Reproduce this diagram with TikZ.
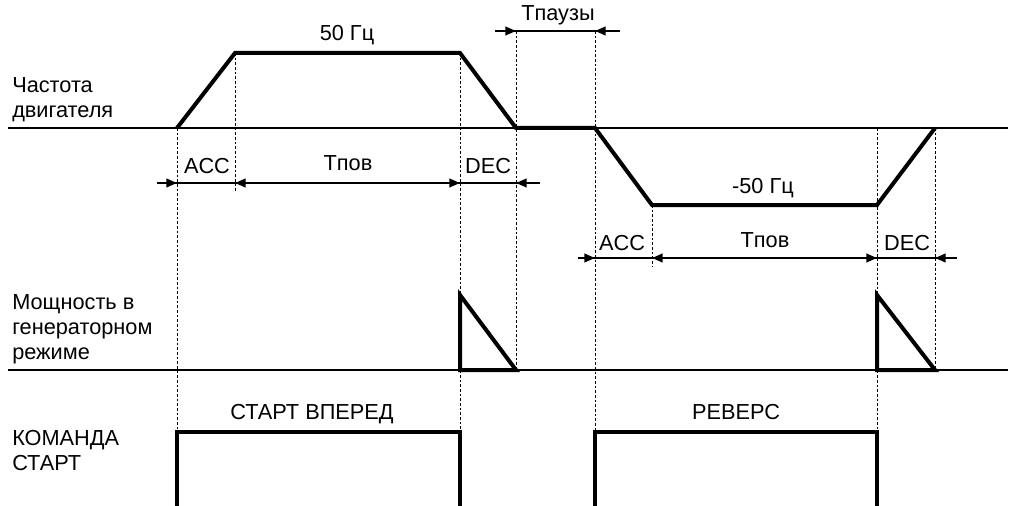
\documentclass[tikz,border=0pt]{standalone}
\usepackage{fontspec}
\setmainfont{Liberation Sans}
\usetikzlibrary{arrows.meta}

\begin{document}
\begin{tikzpicture}[x=0.75pt, y=-0.75pt,
    every node/.style={font=\fontsize{16.3}{18.5}\selectfont, inner sep=0pt},
    axis/.style={line width=1.5pt},
    sig/.style={line width=3pt, line join=miter},
    guide/.style={line width=0.6pt, dash pattern=on 2pt off 1.5pt},
    dim/.style={line width=1.5pt},
    tip/.style={-{Triangle[length=8pt, width=6.5pt]}, dim},
    tips/.style={{Triangle[length=8pt, width=6.5pt]}-{Triangle[length=8pt, width=6.5pt]}, dim},
    lbl/.style={anchor=base},
    side/.style={anchor=base west, align=left}
  ]
  \useasboundingbox (0,0) rectangle (1020,506);

  % key points of the frequency curve
  \coordinate (f0) at (177,128);
  \coordinate (f1) at (235,53);
  \coordinate (f2) at (460,53);
  \coordinate (f3) at (516,128);
  \coordinate (f4) at (595,128);
  \coordinate (f5) at (652,205);
  \coordinate (f6) at (877,205);
  \coordinate (f7) at (935,128);

  % axes
  \draw[axis] (8,128) coordinate (ax1) -- (1008,128);
  \draw[axis] (8,370) coordinate (ax2) -- (1008,370);

  % guide lines
  \draw[guide] (f0) -- (177,432);
  \draw[guide] (f1) -- (235,193);
  \draw[guide] (f2) -- (460,432);
  \draw[guide] (516,31) coordinate (p1) -- (516,370);
  \draw[guide] (595,31) coordinate (p2) -- (595,432);
  \draw[guide] (f5) -- (652,267);
  \draw[guide] (877,128) -- (877,432);
  \draw[guide] (f7) -- (935,370);

  % frequency
  \draw[sig] (f0) -- (f1) -- (f2) -- (f3) -- (f4) -- (f5) -- (f6) -- (f7);

  % regenerative power
  \draw[sig] (460,295) coordinate (g1) -- (g1 |- ax2) -- (f3 |- ax2) -- cycle;
  \draw[sig] (877,295) coordinate (g2) -- (g2 |- ax2) -- (f7 |- ax2) -- cycle;

  % start command
  \draw[sig] (177,506) -- (177,432) -- (460,432) -- (460,506);
  \draw[sig] (595,506) -- (595,432) -- (877,432) -- (877,506);

  % dimension rows
  \draw[dim] (157,183) coordinate (r1l) -- (540,183) coordinate (r1r);
  \draw[tip] (r1l) -- (f0 |- r1l);
  \draw[tips] (f1 |- r1l) -- (f2 |- r1l);
  \draw[tip] (r1r) -- (f3 |- r1r);

  \draw[dim] (578,258) coordinate (r2l) -- (957,258) coordinate (r2r);
  \draw[tip] (r2l) -- (f4 |- r2l);
  \draw[tips] (f5 |- r2l) -- (f6 |- r2l);
  \draw[tip] (r2r) -- (f7 |- r2r);

  \draw[dim] (495,31) coordinate (t1) -- (620,31) coordinate (t2);
  \draw[tip] (t1) -- (p1);
  \draw[tip] (t2) -- (p2);

  % labels
  \node[lbl] (hz1)  at (347,41)  {50 Гц};
  \node[lbl] (tp)   at (558,21)  {Tпаузы};
  \node[lbl] (acc1) at (207,173) {ACC};
  \node[lbl] (tr1)  at (348,171) {Tпов};
  \node[lbl] (dec1) at (488,173) {DEC};
  \node[lbl] (hz2)  at (763,193) {-50 Гц};
  \node[lbl] (acc2) at (622,250) {ACC};
  \node[lbl] (tr2)  at (765,247) {Tпов};
  \node[lbl] (dec2) at (907,250) {DEC};
  \node[lbl] (fwd)  at (312,419) {СТАРТ ВПЕРЕД};
  \node[lbl] (rev)  at (736,419) {РЕВЕРС};

  % row titles, placed by the baseline of their last line
  \node[side, font=\fontsize{16.3}{19}\selectfont] (lfreq) at (12,118) {Частота\\двигателя};
  \node[side] (lpow) at (12,359) {Мощность в\\генераторном\\режиме};
  \node[side] (lcmd) at (12,470) {КОМАНДА\\СТАРТ};
\end{tikzpicture}
\end{document}
